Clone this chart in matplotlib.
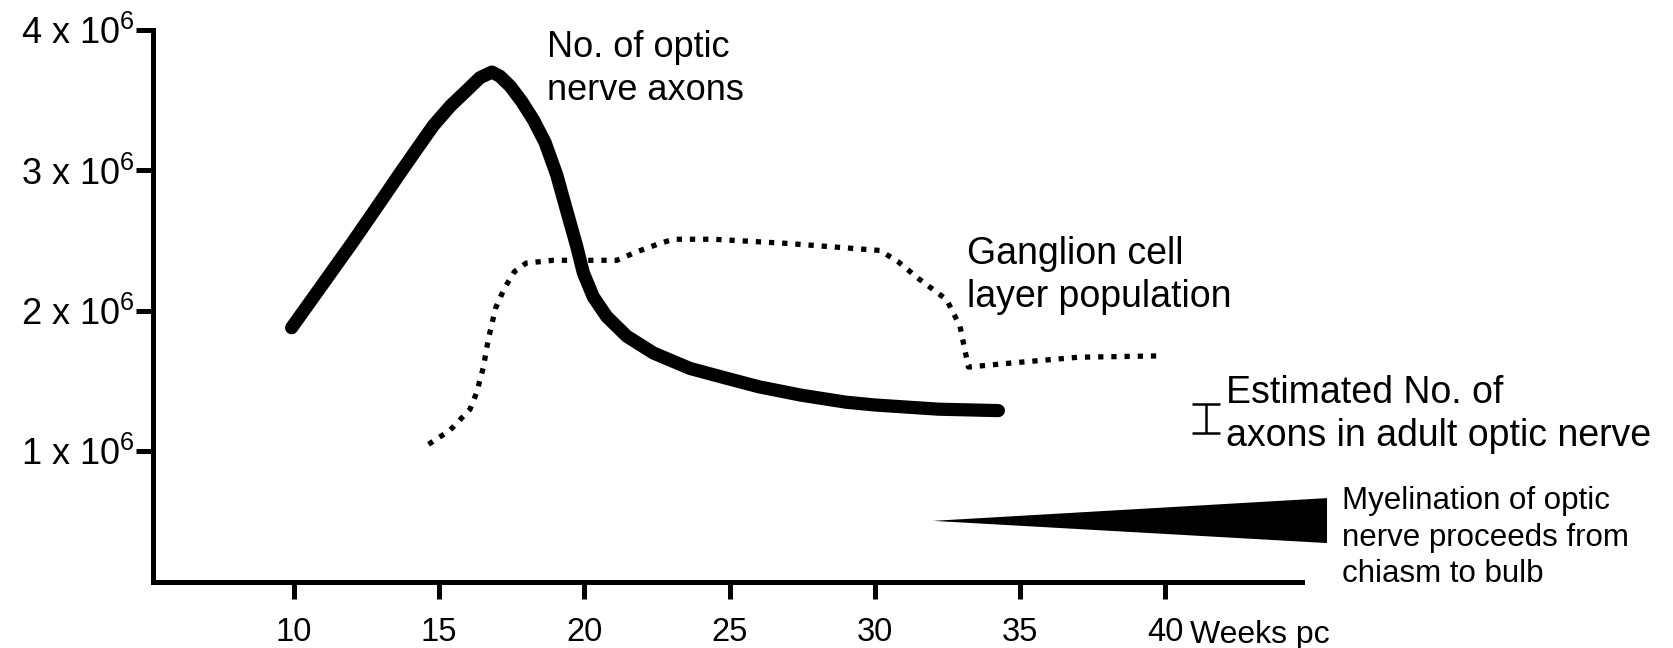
import matplotlib
matplotlib.use("Agg")
import matplotlib.pyplot as plt

# Helvetica-like font for everything
plt.rcParams["font.family"] = ["Liberation Sans", "DejaVu Sans"]
plt.rcParams["mathtext.fontset"] = "custom"
plt.rcParams["mathtext.rm"] = "Liberation Sans"
plt.rcParams["mathtext.it"] = "Liberation Sans"

# Data (values in millions)
axon_weeks = [9.93, 11.0, 12.0, 13.0, 13.66, 14.3, 14.81, 15.4, 15.96, 16.41, 16.82,
              17.1, 17.45, 17.85, 18.25, 18.65, 19.05, 19.4, 19.74, 19.97, 20.31,
              20.77, 21.46, 22.38, 23.64, 24.9, 26.0, 27.46, 29.0, 30.0, 32.2, 34.25]
axon_counts = [1.88, 2.19, 2.48, 2.78, 2.98, 3.17, 3.32, 3.46, 3.57, 3.66, 3.70,
               3.67, 3.60, 3.49, 3.36, 3.20, 2.97, 2.71, 2.46, 2.27, 2.10,
               1.96, 1.82, 1.70, 1.59, 1.52, 1.46, 1.40, 1.35, 1.33, 1.30, 1.29]

gcl_weeks = [14.64, 15.38, 16.07, 16.3, 16.53, 16.7, 16.95, 17.25, 17.6, 18.0,
             18.93, 20.0, 21.12, 21.8, 22.6, 23.07, 24.44, 27.0, 30.18, 30.8, 31.5,
             32.47, 32.93, 33.22, 34.76, 37.0, 39.92]
gcl_counts = [1.05, 1.15, 1.30, 1.42, 1.60, 1.80, 2.02, 2.16, 2.28, 2.34,
              2.36, 2.36, 2.36, 2.42, 2.48, 2.51, 2.51, 2.48, 2.43, 2.35, 2.23,
              2.08, 1.89, 1.60, 1.63, 1.67, 1.68]

adult_week = 41.4
adult_low = 1.13
adult_high = 1.34

myelin_weeks = [32.0, 45.56, 45.56]
myelin_level = [0.505, 0.667, 0.347]

x_ticks = [10, 15, 20, 25, 30, 35, 40]
y_ticks = [1, 2, 3, 4]
y_tick_labels = [r"1 x 10$^{6}$", r"2 x 10$^{6}$", r"3 x 10$^{6}$", r"4 x 10$^{6}$"]

fig = plt.figure(figsize=(16.74, 6.48), dpi=100)
ax = fig.add_axes([0.0914, 0.1019, 0.6864, 0.8519])

ax.plot(axon_weeks, axon_counts, color="black", lw=9.5, solid_capstyle="round",
        solid_joinstyle="round", clip_on=False)
ax.plot(gcl_weeks, gcl_counts, color="black", lw=3.8, linestyle=(0, (1, 1.5)),
        dash_capstyle="butt", clip_on=False)

ax.errorbar([adult_week], [(adult_low + adult_high) / 2],
            yerr=[[(adult_high - adult_low) / 2], [(adult_high - adult_low) / 2]],
            color="black", lw=1.8, capsize=10, capthick=1.8, clip_on=False)

ax.fill(myelin_weeks, myelin_level, color="black", lw=0, clip_on=False)

ax.set_xlim(5.16, 44.7)
ax.set_ylim(0.07, 4.0)
for s in ["top", "right"]:
    ax.spines[s].set_visible(False)
for s in ["left", "bottom"]:
    ax.spines[s].set_linewidth(3.6)

ax.set_xticks(x_ticks)
ax.set_xticklabels([str(t) for t in x_ticks], fontsize=23.5)
ax.set_yticks(y_ticks)
ax.set_yticklabels(y_tick_labels, fontsize=26)
ax.tick_params(axis="x", length=12, width=3.6, pad=13)
ax.tick_params(axis="y", length=12, width=3.6, pad=1)

ax.text(40.85, -0.31, "Weeks pc", fontsize=23, va="center",
        ha="left", clip_on=False)
ax.text(18.72, 4.0, "No. of optic\nnerve axons", fontsize=26, va="top",
        ha="left", linespacing=1.3, clip_on=False)
ax.text(33.18, 2.53, "Ganglion cell\nlayer population", fontsize=27, va="top",
        ha="left", linespacing=1.25, clip_on=False)
ax.text(42.07, 1.54, "Estimated No. of\naxons in adult optic nerve", fontsize=27,
        va="top", ha="left", linespacing=1.25, clip_on=False)
ax.text(46.07, 0.75, "Myelination of optic\nnerve proceeds from\nchiasm to bulb",
        fontsize=22.5, va="top", ha="left", linespacing=1.28, clip_on=False)

fig.savefig("out.png", dpi=100, facecolor="white")
